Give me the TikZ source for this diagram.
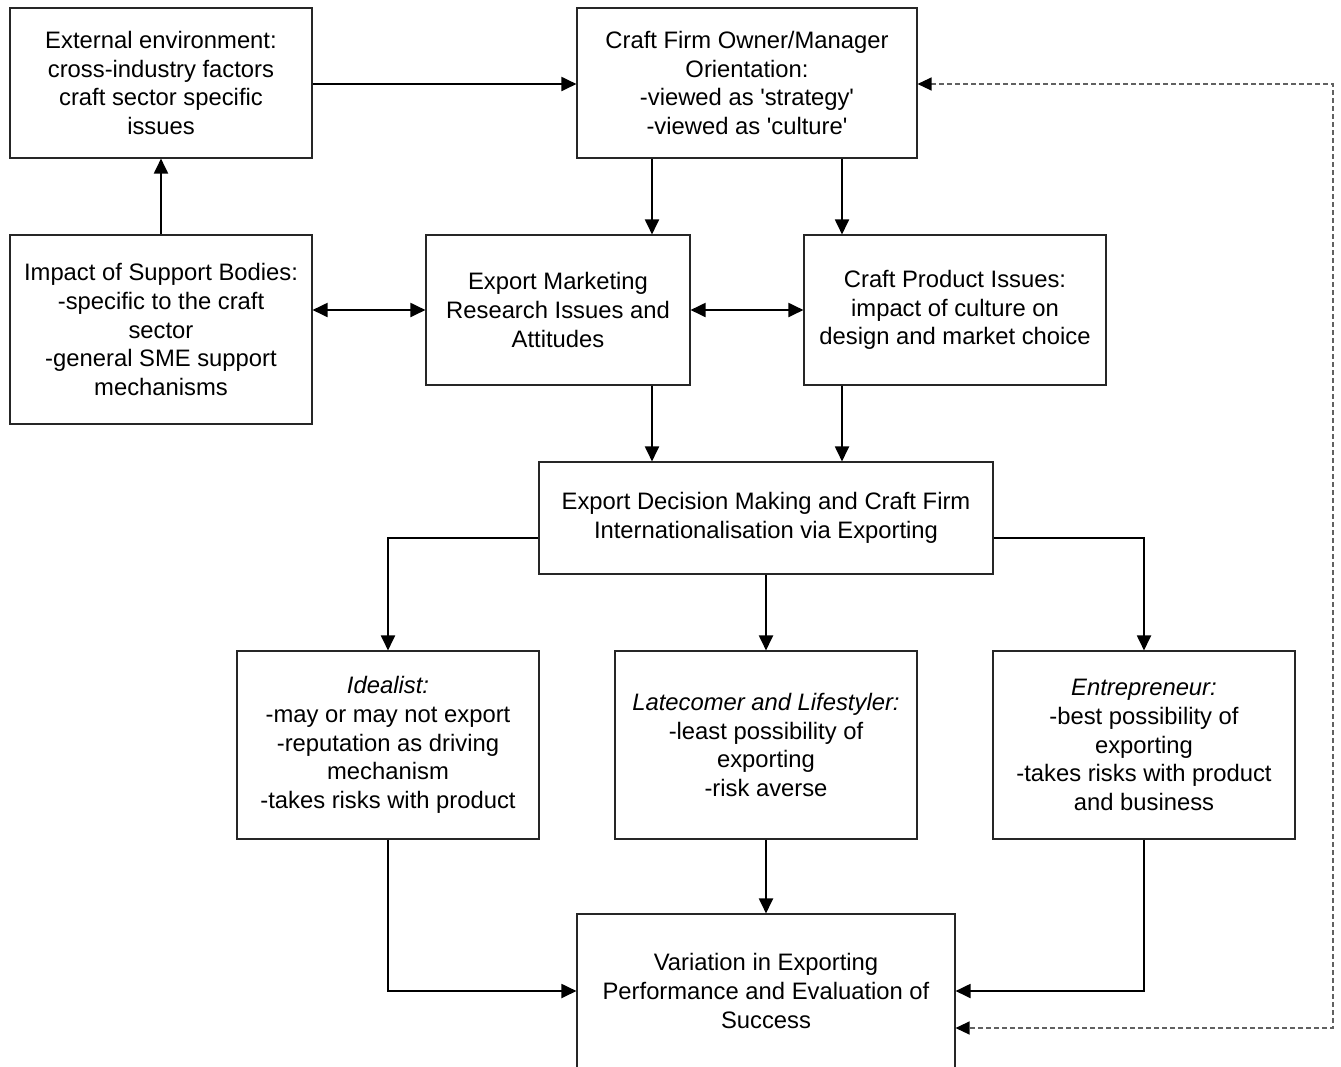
\documentclass[tikz,border=0pt]{standalone}
\usepackage{fontspec}
\setmainfont{Liberation Sans}
\usetikzlibrary{arrows.meta}

\begin{document}
\begin{tikzpicture}[x=1pt,y=-1pt,
  box/.style={draw=black!85, line width=1.1pt, align=center, inner sep=0pt,
    font=\fontsize{23.8}{28.6}\selectfont},
  conn/.style={line width=1.9pt, -{Triangle[length=15pt,width=14pt]}},
  biconn/.style={line width=1.9pt, {Triangle[length=15pt,width=14pt]}-{Triangle[length=15pt,width=14pt]}},
  feedback/.style={draw=black!62, line width=1.3pt, dash pattern=on 5pt off 3pt,
    {Triangle[length=14pt,width=13pt,color=black]}-{Triangle[length=14pt,width=13pt,color=black]}}]

\fill[white] (0,0) rectangle (1341,1066);
\useasboundingbox (0,0) rectangle (1341,1066);
\clip (0,0) rectangle (1341,1066);

% boxes
\node[box, minimum width=302pt, minimum height=150pt] (ext) at (161,83)
  {External environment:\\cross-industry factors\\craft sector specific\\issues};
\node[box, minimum width=340pt, minimum height=150pt] (own) at (747,83)
  {Craft Firm Owner/Manager\\Orientation:\\-viewed as \textquotesingle strategy\textquotesingle\\-viewed as \textquotesingle culture\textquotesingle};
\node[box, minimum width=302pt, minimum height=189pt] (sup) at (161,329.5)
  {Impact of Support Bodies:\\-specific to the craft\\sector\\-general SME support\\mechanisms};
\node[box, minimum width=264pt, minimum height=150pt] (mkt) at (558,310)
  {Export Marketing\\Research Issues and\\Attitudes};
\node[box, minimum width=302pt, minimum height=150pt] (prd) at (955,310)
  {Craft Product Issues:\\impact of culture on\\design and market choice};
\node[box, minimum width=454pt, minimum height=112pt] (dec) at (766,518)
  {Export Decision Making and Craft Firm\\Internationalisation via Exporting};
\node[box, minimum width=302pt, minimum height=188pt] (ide) at (388,745)
  {\textit{Idealist:}\\-may or may not export\\-reputation as driving\\mechanism\\-takes risks with product};
\node[box, minimum width=302pt, minimum height=188pt] (lat) at (766,745)
  {\textit{Latecomer and Lifestyler:}\\-least possibility of\\exporting\\-risk averse};
\node[box, minimum width=302pt, minimum height=188pt] (ent) at (1144,745)
  {\textit{Entrepreneur:}\\-best possibility of\\exporting\\-takes risks with product\\and business};
\node[box, minimum width=378pt, minimum height=154pt] (var) at (766,991)
  {Variation in Exporting\\Performance and Evaluation of\\Success};

% routing guides
\coordinate (xa) at (652,0);
\coordinate (xb) at (842,0);
\coordinate (xd) at (1333,0);
\coordinate (yq) at (0,538);
\coordinate (yo) at (0,84);
\coordinate (yv) at (0,991);
\coordinate (yd) at (0,1028);

% connectors
\draw[conn] (ext.east |- yo) -- (own.west |- yo);
\draw[conn] (sup.north) -- (ext.south);
\draw[biconn] (sup.east |- mkt.west) -- (mkt.west);
\draw[biconn] (mkt.east) -- (prd.west);
\draw[conn] (own.south -| xa) -- (mkt.north -| xa);
\draw[conn] (own.south -| xb) -- (prd.north -| xb);
\draw[conn] (mkt.south -| xa) -- (dec.north -| xa);
\draw[conn] (prd.south -| xb) -- (dec.north -| xb);
\draw[conn] (dec.west |- yq) -| (ide.north);
\draw[conn] (dec.south) -- (lat.north);
\draw[conn] (dec.east |- yq) -| (ent.north);
\draw[conn] (ide.south) |- (var.west |- yv);
\draw[conn] (lat.south) -- (var.north);
\draw[conn] (ent.south) |- (var.east |- yv);

% feedback loop
\draw[feedback] (own.east |- yo) -- (xd |- yo) -- (xd |- yd) -- (var.east |- yd);

\end{tikzpicture}
\end{document}
